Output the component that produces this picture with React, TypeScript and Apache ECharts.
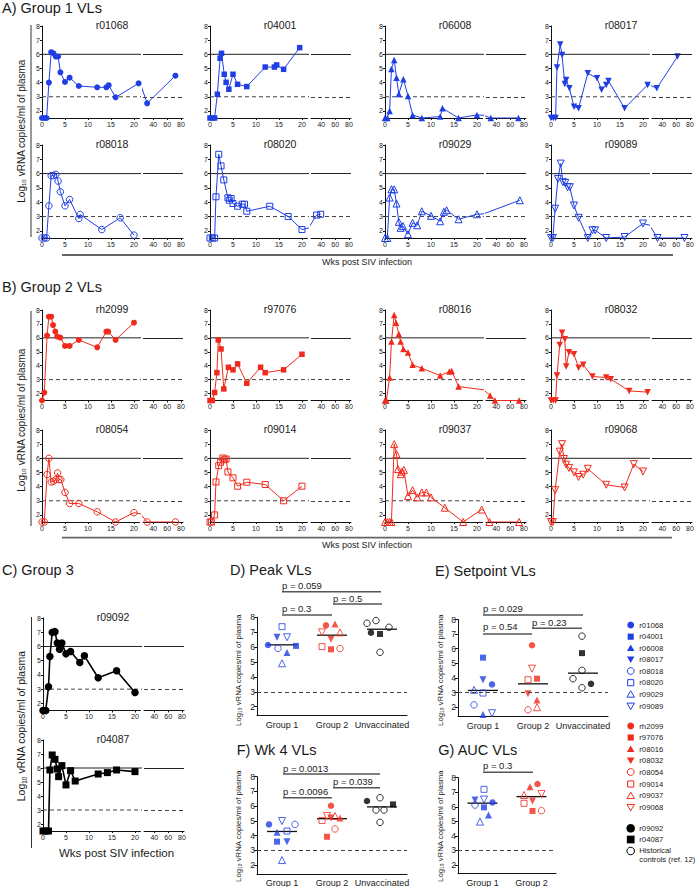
import React, { useEffect, useRef } from 'react';
import * as echarts from 'echarts';

// ---------------- Time-course data (weeks post infection, log10 vRNA) ----------------
const r01068_wk = [0, 0.5, 1, 1.5, 2, 2.5, 3, 3.5, 4, 5, 6, 8, 12, 14, 14.5, 16, 21, 31, 72];
const r01068_vl = [1.5, 1.5, 1.5, 4.0, 6.15, 6.07, 5.84, 5.85, 4.73, 4.05, 4.35, 3.76, 3.67, 3.67, 3.82, 2.96, 3.95, 2.54, 4.49];
const r04001_wk = [0, 0.5, 1, 1.6, 2.2, 2.5, 3.1, 3.5, 4.1, 5, 6, 8, 12, 14, 14.5, 16, 19.5];
const r04001_vl = [1.5, 1.5, 1.5, 3.18, 5.72, 6.07, 4.59, 4.02, 3.53, 4.59, 3.88, 3.72, 5.1, 5.1, 5.25, 4.94, 6.47];
const r06008_wk = [0, 0.5, 1, 1.4, 2, 2.5, 3, 4, 5, 6, 8, 12, 12.5, 16, 20, 32, 72];
const r06008_vl = [1.5, 1.5, 2.0, 4.96, 5.6, 4.35, 3.2, 4.24, 3.06, 1.72, 1.5, 1.6, 2.19, 1.5, 1.72, 1.5, 1.5];
const r08017_wk = [0, 0.5, 1, 1.3, 2, 2.4, 3, 3.3, 4, 5, 6, 8, 10, 11, 12, 12.5, 16, 21, 32, 62];
const r08017_vl = [1.5, 1.5, 1.5, 5.06, 6.7, 5.95, 3.9, 4.19, 3.6, 2.3, 2.19, 4.66, 4.31, 3.5, 3.84, 4.12, 2.19, 3.84, 3.6, 5.84];
const r08018_wk = [0, 0.5, 1, 1.5, 2, 2.5, 3, 3.5, 4, 5, 6, 8, 8.3, 13, 17, 20];
const r08018_vl = [1.5, 1.5, 1.5, 3.75, 5.86, 5.86, 5.95, 5.48, 4.73, 3.75, 4.19, 2.86, 3.14, 2.09, 2.91, 1.7];
const r08020_wk = [0, 0.5, 1, 1.3, 1.9, 2.4, 3, 3.9, 4.2, 4.6, 5, 6, 7, 7.5, 8, 13, 17, 20, 33, 39];
const r08020_vl = [1.5, 1.5, 1.5, 4.38, 7.35, 6.54, 5.56, 4.31, 4.14, 4.26, 3.91, 3.72, 3.86, 3.86, 3.37, 3.72, 3.0, 2.09, 3.1, 3.16];
const r09029_wk = [0, 0.5, 1, 1.4, 2, 2.5, 3, 3.4, 3.9, 5, 6, 7, 8, 10, 12, 12.8, 13.4, 16, 20, 74];
const r09029_vl = [1.5, 1.5, 4.33, 4.91, 4.9, 3.91, 2.63, 2.21, 2.33, 1.77, 2.56, 2.39, 3.37, 3.05, 2.67, 3.33, 3.44, 2.81, 3.16, 4.14];
const r09089_wk = [0, 0.4, 0.9, 1.5, 2.1, 2.6, 3.1, 3.6, 4.1, 5, 6, 8, 9, 9.6, 12, 16, 20, 33, 72];
const r09089_vl = [1.5, 1.5, 3.55, 5.63, 6.7, 5.4, 5.35, 5.05, 5.05, 3.77, 2.91, 1.5, 2.04, 2.04, 1.5, 1.57, 2.51, 1.5, 1.5];

const rh2099_wk = [0, 0.5, 1.1, 1.5, 2, 2.4, 2.9, 3.3, 4, 5, 6, 8, 12, 14, 14.4, 16, 20];
const rh2099_vl = [1.5, 2.07, 6.16, 7.52, 7.52, 6.92, 6.45, 6.09, 6.02, 5.42, 5.42, 5.85, 5.32, 6.45, 6.45, 5.85, 7.09];
const r97076_wk = [0, 0.5, 1, 1.5, 1.8, 2.4, 3, 4, 5, 6, 8, 11, 12, 16, 20];
const r97076_vl = [1.5, 1.5, 2.07, 3.5, 5.85, 5.2, 2.33, 3.89, 3.7, 4.13, 2.74, 3.89, 3.5, 3.7, 4.82];
const r08016_wk = [0, 0.3, 1, 1.4, 2, 2.4, 3, 3.4, 4, 5, 6, 8, 12, 14, 14.5, 16, 31, 38, 73];
const r08016_vl = [1.5, 1.5, 3.15, 5.73, 7.64, 7.09, 6.28, 5.73, 5.2, 4.94, 4.06, 3.82, 3.29, 3.58, 3.62, 2.5, 1.86, 1.5, 1.5];
const r08032_wk = [0, 0.5, 1, 1.3, 1.9, 2.4, 3, 3.3, 3.9, 5, 6, 7, 9, 12, 13, 17, 21];
const r08032_vl = [1.5, 1.5, 1.5, 3.29, 5.49, 6.37, 5.9, 3.94, 4.96, 4.82, 3.86, 4.06, 3.22, 3.15, 3.03, 2.19, 2.1];
const r08054_wk = [0, 0.5, 1.1, 1.5, 2, 2.5, 3, 3.4, 3.7, 4.1, 5, 6, 8, 12, 16, 20, 31, 72];
const r08054_vl = [1.5, 1.5, 4.85, 6.0, 4.33, 4.38, 4.5, 4.97, 4.5, 4.5, 3.59, 2.81, 2.81, 2.22, 1.5, 2.16, 1.5, 1.5];
const r09014_wk = [0, 0.3, 1, 1.3, 1.9, 2.3, 2.8, 3.1, 3.5, 3.9, 5, 6, 8, 12, 16, 20];
const r09014_vl = [1.5, 1.5, 2.0, 4.33, 5.48, 5.72, 6.02, 5.9, 5.95, 5.04, 4.62, 4.03, 4.31, 4.15, 3.0, 4.03];
const r09037_wk = [0, 0.5, 1, 1.4, 2, 2.5, 2.8, 3.4, 3.6, 4.1, 5, 6, 7, 8, 9, 10, 13, 17, 21, 30, 73];
const r09037_vl = [1.5, 1.5, 1.5, 1.5, 7.0, 6.3, 5.24, 4.88, 5.06, 5.18, 3.33, 3.75, 3.24, 3.59, 3.59, 3.24, 2.51, 1.5, 2.38, 1.5, 1.5];
const r09068_wk = [0, 0.4, 0.9, 1.9, 2.4, 2.8, 3.3, 3.9, 5, 6, 7, 8, 12, 16, 18, 20];
const r09068_vl = [1.5, 1.5, 3.75, 6.47, 7.0, 5.95, 5.55, 5.32, 5.01, 4.68, 4.84, 5.26, 4.13, 3.94, 5.59, 5.07];

const r09092_wk = [0, 0.6, 1.2, 1.5, 2, 2.6, 3.1, 3.6, 4.1, 5, 6, 8, 9, 12, 16, 20];
const r09092_vl = [1.5, 1.5, 3.17, 5.29, 6.99, 7.04, 6.24, 5.81, 6.24, 5.48, 5.65, 4.87, 5.34, 3.8, 4.29, 2.76];
const r04087_wk = [0, 0.6, 1.2, 1.5, 2, 2.6, 3.1, 3.4, 4.1, 5, 6, 7, 12, 14, 16, 20];
const r04087_vl = [1.5, 1.5, 1.5, 5.86, 6.93, 6.62, 5.93, 5.38, 6.17, 4.79, 5.81, 5.07, 5.57, 5.67, 5.86, 5.74];

// reference levels (log10 copies/ml)
const VL_HIGH = 6;
const VL_LOW = 3;

// ---------------- Summary data (D–G) ----------------
const g1Ids = ['r01068', 'r04001', 'r06008', 'r08017', 'r08018', 'r08020', 'r09029', 'r09089'];
const g2Ids = ['rh2099', 'r97076', 'r08016', 'r08032', 'r08054', 'r09014', 'r09037', 'r09068'];
const g3Ids = ['r09092', 'r04087'];
const catsAll = ['Group 1', 'Group 2', 'Unvaccinated'];
const catsTwo = ['Group 1', 'Group 2'];

const peak_g1 = [6.14, 6.08, 5.63, 6.66, 5.92, 7.37, 4.91, 6.66];
const peak_g2 = [7.46, 5.85, 7.55, 6.52, 5.9, 6.03, 6.99, 6.99];
const peak_g3 = [6.97, 6.88];
const peak_hist = [7.6, 7.78, 7.33, 5.65];
const peak_median = [6.15, 6.8, 7.2];

const set_g1 = [3.56, 5.39, 1.5, 3.88, 2.16, 2.97, 3.19, 1.59];
const set_g2 = [6.24, 3.95, 2.5, 2.92, 1.82, 3.88, 2.0, 4.64];
const set_g3 = [3.6, 5.7];
const set_hist = [6.86, 4.52, 3.95, 3.33];
const set_median = [3.15, 3.6, 4.33];

const wk4_g1 = [4.76, 3.59, 4.22, 3.59, 4.76, 4.31, 2.34, 4.99];
const wk4_g2 = [6.03, 3.92, 5.2, 5.2, 4.45, 5.03, 5.33, 5.33];
const wk4_g3 = [6.35, 6.12];
const wk4_hist = [6.57, 5.74, 5.74, 4.9];
const wk4_median = [4.28, 5.15, 5.95];

const auc_g1 = [6.3, 5.96, 5.44, 6.47, 6.12, 7.2, 4.98, 6.5];
const auc_g2 = [7.57, 5.71, 7.38, 6.4, 5.73, 6.24, 6.81, 6.88];
const auc_median = [6.25, 6.7];

// ---------------- Styles & layout ----------------
const FONT = '"Liberation Sans", Arial, Helvetica, sans-serif';
const BLUE = '#1f3fe4';
const RED = '#f02a1c';
const BLACK = '#000000';
const TXT = '#1a1a1a';

type Shape = 'circle' | 'rect' | 'up' | 'down';
interface Animal { id: string; wk: number[]; vl: number[]; color: string; shape: Shape; open: boolean; }

const animals: Record<string, Animal> = {};
function reg(id: string, wk: number[], vl: number[], color: string, shape: Shape, open: boolean) {
  animals[id] = { id, wk, vl, color, shape, open };
}
reg('r01068', r01068_wk, r01068_vl, BLUE, 'circle', false);
reg('r04001', r04001_wk, r04001_vl, BLUE, 'rect', false);
reg('r06008', r06008_wk, r06008_vl, BLUE, 'up', false);
reg('r08017', r08017_wk, r08017_vl, BLUE, 'down', false);
reg('r08018', r08018_wk, r08018_vl, BLUE, 'circle', true);
reg('r08020', r08020_wk, r08020_vl, BLUE, 'rect', true);
reg('r09029', r09029_wk, r09029_vl, BLUE, 'up', true);
reg('r09089', r09089_wk, r09089_vl, BLUE, 'down', true);
reg('rh2099', rh2099_wk, rh2099_vl, RED, 'circle', false);
reg('r97076', r97076_wk, r97076_vl, RED, 'rect', false);
reg('r08016', r08016_wk, r08016_vl, RED, 'up', false);
reg('r08032', r08032_wk, r08032_vl, RED, 'down', false);
reg('r08054', r08054_wk, r08054_vl, RED, 'circle', true);
reg('r09014', r09014_wk, r09014_vl, RED, 'rect', true);
reg('r09037', r09037_wk, r09037_vl, RED, 'up', true);
reg('r09068', r09068_wk, r09068_vl, RED, 'down', true);
reg('r09092', r09092_wk, r09092_vl, BLACK, 'circle', false);
reg('r04087', r04087_wk, r04087_vl, BLACK, 'rect', false);

// panel placement (y-axis x, top of plot (value 8), bottom of plot (value 1.5))
const COLS = [42, 210, 385, 551];
const SEG1_W = 97.5;
const SEG2_OFF = 101;
const SEG2_W = 40;
const SEG1_MAX = 21.2;
const PANELS: { id: string; L: number; T: number; B: number; big?: boolean }[] = [
  { id: 'r01068', L: COLS[0], T: 26, B: 118 }, { id: 'r04001', L: COLS[1], T: 26, B: 118 },
  { id: 'r06008', L: COLS[2], T: 26, B: 118 }, { id: 'r08017', L: COLS[3], T: 26, B: 118 },
  { id: 'r08018', L: COLS[0], T: 145, B: 238 }, { id: 'r08020', L: COLS[1], T: 145, B: 238 },
  { id: 'r09029', L: COLS[2], T: 145, B: 238 }, { id: 'r09089', L: COLS[3], T: 145, B: 238 },
  { id: 'rh2099', L: COLS[0], T: 310, B: 400.5 }, { id: 'r97076', L: COLS[1], T: 310, B: 400.5 },
  { id: 'r08016', L: COLS[2], T: 310, B: 400.5 }, { id: 'r08032', L: COLS[3], T: 310, B: 400.5 },
  { id: 'r08054', L: COLS[0], T: 430, B: 522 }, { id: 'r09014', L: COLS[1], T: 430, B: 522 },
  { id: 'r09037', L: COLS[2], T: 430, B: 522 }, { id: 'r09068', L: COLS[3], T: 430, B: 522 },
  { id: 'r09092', L: 43, T: 618, B: 710.5, big: true }, { id: 'r04087', L: 43, T: 740, B: 831, big: true },
];

// horizontal jitter (px) of dots in D–G
const JIT = {
  peak: { g1: [-14, 14, 5, -5, -4, 0, 0, 5], g2: [-6, -1, 3, -1, 8, -10, 8, -10], g3: [-11, -2], h: [-15, -6, 7, -2] },
  set: { g1: [9, 0, 0, 0, -9, 0, -9, 9], g2: [-1, 4, 4, -5, -5, -5, 4, -1], g3: [8, -1], h: [-1, -1, -10, -1] },
  wk4: { g1: [-13, -5, -5, 5, 13, 5, 0, 0], g2: [-1, -5, 8, -1, 3, -10, 3, -5], g3: [-15, 11], h: [-2, -6, 2, -2] },
  auc: { g1: [10, 1.5, 6, -7.5, -7.5, 1.5, -2.5, 1.5], g2: [6, 1, -1.5, 1, 10, -7.5, -7.5, 10] },
};

const Y_TICKS = [2, 3, 4, 5, 6, 7, 8];

function symOf(shape: Shape) {
  if (shape === 'circle') return { symbol: 'circle', rotate: 0 };
  if (shape === 'rect') return { symbol: 'rect', rotate: 0 };
  if (shape === 'up') return { symbol: 'triangle', rotate: 0 };
  return { symbol: 'triangle', rotate: 180 };
}
function sizeOf(shape: Shape, open: boolean, big = false) {
  if (big) return shape === 'rect' ? 7 : 7.5;
  if (shape === 'circle') return open ? 6.5 : 6;
  if (shape === 'rect') return open ? 6 : 5.5;
  return open ? 7 : 6.5;
}

function buildOption() {
  const grids: any[] = [];
  const xAxes: any[] = [];
  const yAxes: any[] = [];
  const series: any[] = [];
  const gfx: any[] = [];
  const axisLS = { color: '#111', width: 1 };
  const solidLS = { color: '#222', width: 1, type: 'solid' };
  const dashLS = { color: '#444', width: 1, type: [4, 3] };

  const addGrid = (left: number, top: number, width: number, height: number) => {
    grids.push({ left, top, width, height, containLabel: false, outerBoundsMode: 'none' });
    return grids.length - 1;
  };
  const valX = (gi: number, min: number, max: number, ticks: number[]) => ({
    type: 'value', gridIndex: gi, min, max,
    axisLine: { show: true, onZero: false, lineStyle: axisLS },
    axisTick: { show: true, length: 2, customValues: ticks, lineStyle: axisLS },
    axisLabel: { show: true, customValues: ticks, fontSize: 7, margin: 2.5, color: TXT, fontFamily: FONT },
    splitLine: { show: false },
  });
  const valY = (gi: number, min: number, show: boolean, fs = 7) => ({
    type: 'value', gridIndex: gi, min, max: 8, show,
    axisLine: { show: true, onZero: false, lineStyle: axisLS },
    axisTick: { show: true, length: 2, customValues: Y_TICKS, lineStyle: axisLS },
    axisLabel: { show: true, customValues: Y_TICKS, fontSize: fs, margin: 2, color: TXT, fontFamily: FONT },
    splitLine: { show: false },
  });
  const refLines = {
    silent: true, symbol: ['none', 'none'], label: { show: false }, animation: false,
    data: [{ yAxis: VL_HIGH, lineStyle: solidLS }, { yAxis: VL_LOW, lineStyle: dashLS }],
  };

  // ---- time-course panels ----
  for (const p of PANELS) {
    const an = animals[p.id];
    const h = p.B - p.T;
    const g1 = addGrid(p.L, p.T, SEG1_W, h);
    xAxes.push(valX(g1, 0, SEG1_MAX, [0, 5, 10, 15, 20]));
    yAxes.push(valY(g1, 1.5, true));
    const g2 = addGrid(p.L + SEG2_OFF, p.T, SEG2_W, h);
    xAxes.push(valX(g2, 25, 83, [40, 60, 80]));
    yAxes.push(valY(g2, 1.5, false));
    // reference levels in first segment run on across the axis break
    const bridge = (SEG2_OFF / SEG1_W) * SEG1_MAX;
    for (const [lvl, ls] of [[VL_HIGH, solidLS], [VL_LOW, dashLS]] as any[]) {
      series.push({
        type: 'line', xAxisIndex: g1, yAxisIndex: g1, data: [[0, lvl], [bridge, lvl]], clip: false,
        symbol: 'none', lineStyle: ls, silent: true, z: 1, emphasis: { disabled: true },
      });
    }
    const s = symOf(an.shape);
    const data = an.wk.map((w, i) => [w, an.vl[i]]);
    for (const gi of [g1, g2]) {
      series.push({
        type: 'line', name: an.id, xAxisIndex: gi, yAxisIndex: gi, data, clip: true,
        symbol: s.symbol, symbolRotate: s.rotate, symbolSize: sizeOf(an.shape, an.open, p.big),
        showAllSymbol: true,
        itemStyle: { color: an.open ? 'rgba(255,255,255,0)' : an.color, borderColor: an.color, borderWidth: an.open ? 1 : 0 },
        lineStyle: { color: an.color, width: p.big ? 1.6 : 1 },
        emphasis: { disabled: true },
        markLine: gi === g2 ? refLines : undefined,
        z: 3,
      });
    }
    gfx.push({
      type: 'text', x: p.L + 70, y: p.T - 1, silent: true,
      style: { text: an.id, fontSize: 10.5, fontFamily: FONT, fill: TXT, align: 'center', verticalAlign: 'middle' },
    });
  }

  // ---- dot plots ----
  const dotItem = (an: { color: string; shape: Shape; open: boolean }, cat: number, v: number, jit: number) => {
    const s = symOf(an.shape);
    const size = an.shape === 'rect' ? 6 : an.shape === 'circle' ? 6.5 : 7;
    return {
      value: [cat, v], symbol: s.symbol, symbolRotate: s.rotate, symbolSize: size, symbolOffset: [jit, 0],
      itemStyle: { color: an.open ? 'rgba(255,255,255,0)' : an.color, borderColor: an.color, borderWidth: an.open ? 1 : 0 },
    };
  };
  const hist = { color: BLACK, shape: 'circle' as Shape, open: true };
  const addDot = (left: number, top: number, width: number, height: number, cats: string[],
    groups: { ids: string[] | null; vals: number[]; jit: number[] }[], medians: number[]) => {
    const gi = addGrid(left, top, width, height);
    xAxes.push({
      type: 'category', gridIndex: gi, data: cats,
      axisLine: { show: true, onZero: false, lineStyle: axisLS }, axisTick: { show: false },
      axisLabel: { fontSize: 9, margin: 5, color: TXT, fontFamily: FONT, interval: 0 },
      splitLine: { show: false },
    });
    yAxes.push({ ...valY(gi, 1.4, true, 8.5), axisTick: { show: true, length: 3, customValues: Y_TICKS, lineStyle: axisLS } });
    const items: any[] = [];
    groups.forEach((g, ci) => {
      g.vals.forEach((v, k) => {
        const an = g.ids ? animals[g.ids[k]] : hist;
        items.push(dotItem(an, ci === 3 ? 2 : ci, v, g.jit[k]));
      });
    });
    series.push({
      type: 'scatter', xAxisIndex: gi, yAxisIndex: gi, data: items, z: 4, emphasis: { disabled: true },
      markLine: { silent: true, symbol: ['none', 'none'], label: { show: false }, animation: false,
        data: [{ yAxis: VL_LOW, lineStyle: dashLS }] },
    });
    series.push({
      type: 'custom', xAxisIndex: gi, yAxisIndex: gi, silent: true, z: 3,
      data: medians.map((m, i) => [i, m]),
      renderItem: (_p: any, api: any) => {
        const c = api.coord([api.value(0), api.value(1)]);
        return { type: 'line', shape: { x1: c[0] - 15, y1: c[1], x2: c[0] + 15, y2: c[1] }, style: { stroke: '#111', lineWidth: 1.3 } };
      },
    });
  };

  addDot(257, 617.3, 150, 98.3, catsAll, [
    { ids: g1Ids, vals: peak_g1, jit: JIT.peak.g1 }, { ids: g2Ids, vals: peak_g2, jit: JIT.peak.g2 },
    { ids: g3Ids, vals: peak_g3, jit: JIT.peak.g3 }, { ids: null, vals: peak_hist, jit: JIT.peak.h },
  ], peak_median);
  addDot(458, 619.5, 150, 96.5, catsAll, [
    { ids: g1Ids, vals: set_g1, jit: JIT.set.g1 }, { ids: g2Ids, vals: set_g2, jit: JIT.set.g2 },
    { ids: g3Ids, vals: set_g3, jit: JIT.set.g3 }, { ids: null, vals: set_hist, jit: JIT.set.h },
  ], set_median);
  addDot(257, 776.7, 150, 97.2, catsAll, [
    { ids: g1Ids, vals: wk4_g1, jit: JIT.wk4.g1 }, { ids: g2Ids, vals: wk4_g2, jit: JIT.wk4.g2 },
    { ids: g3Ids, vals: wk4_g3, jit: JIT.wk4.g3 }, { ids: null, vals: wk4_hist, jit: JIT.wk4.h },
  ], wk4_median);
  addDot(458, 777.7, 98, 96, catsTwo, [
    { ids: g1Ids, vals: auc_g1, jit: JIT.auc.g1 }, { ids: g2Ids, vals: auc_g2, jit: JIT.auc.g2 },
  ], auc_median);

  // ---- texts & decorations ----
  const text = (t: string, x: number, y: number, fs: number, align = 'left', extra: any = {}) => ({
    type: 'text', x, y, silent: true,
    style: { text: t, fontSize: fs, fontFamily: FONT, fill: TXT, align, verticalAlign: 'middle', ...extra },
  });
  const line = (x1: number, y1: number, x2: number, y2: number, stroke = '#555', lw = 1.5) => ({
    type: 'line', silent: true, shape: { x1, y1, x2, y2 }, style: { stroke, lineWidth: lw },
  });
  const yTitle = (x: number, y: number, fs: number) => ({
    type: 'text', x, y, rotation: Math.PI / 2, silent: true,
    style: {
      text: 'Log{s|10} vRNA copies/ml of plasma', fontSize: fs, fontFamily: FONT, fill: TXT,
      align: 'center', verticalAlign: 'middle', lineHeight: fs * 1.25,
      rich: { s: { fontSize: fs * 0.6, fontFamily: FONT, fill: TXT, verticalAlign: 'bottom', lineHeight: fs * 0.6 } },
    },
  });

  gfx.push(text('A) Group 1 VLs', 2, 7.5, 14.5));
  gfx.push(text('B) Group 2 VLs', 2, 286.7, 14.5));
  gfx.push(text('C) Group 3', 2, 570, 14.5));
  gfx.push(text('D) Peak VLs', 230, 570, 14.5));
  gfx.push(text('E) Setpoint VLs', 435, 570.7, 14.5));
  gfx.push(text('F) Wk 4 VLs', 236.7, 750, 14.5));
  gfx.push(text('G) AUC VLs', 438.3, 750, 14.5));

  gfx.push(line(31, 25, 31, 237, '#333', 1));
  gfx.push(line(31, 311, 31, 526, '#333', 1));
  gfx.push(line(31.5, 617, 31.5, 848, '#333', 1));
  gfx.push(yTitle(21, 131, 10));
  gfx.push(yTitle(21, 420, 10));
  gfx.push(yTitle(21, 726, 10.5));
  gfx.push(yTitle(238.3, 670, 7.8));
  gfx.push(yTitle(440, 670, 7.8));
  gfx.push(yTitle(238.3, 826, 7.8));
  gfx.push(yTitle(440, 826, 7.8));

  gfx.push(line(62, 255, 673, 255, '#666', 1.8));
  gfx.push(text('Wks post SIV infection', 367, 262, 9, 'center'));
  gfx.push(line(62, 537.7, 672, 537.7, '#666', 1.8));
  gfx.push(text('Wks post SIV infection', 367, 545, 9, 'center'));
  gfx.push(text('Wks post SIV infection', 116.5, 853.3, 11.5, 'center'));

  // p-value bars
  const pv = (t: string, x1: number, ty: number, ly: number, x2: number) => {
    gfx.push(text(t, x1, ty, 9.5));
    gfx.push(line(x1, ly, x2, ly, '#555', 1.6));
  };
  pv('p = 0.059', 282, 585.7, 591.7, 381);
  pv('p = 0.5', 333, 598.3, 604, 382);
  pv('p = 0.3', 282, 608.3, 615, 332);
  pv('p = 0.029', 483, 608.3, 615, 583);
  pv('p = 0.54', 483, 626.7, 634, 532);
  pv('p = 0.23', 532, 622.7, 628.3, 582);
  pv('p = 0.0013', 283, 768.3, 774, 380);
  pv('p = 0.039', 333, 781.7, 787.7, 380);
  pv('p = 0.0096', 283, 791, 797.7, 332);
  pv('p = 0.3', 483, 765.7, 772.3, 533);

  // legend
  const icon = (shape: Shape, color: string, open: boolean, cx: number, cy: number, r: number) => {
    const style = { fill: open ? 'rgba(255,255,255,0)' : color, stroke: color, lineWidth: open ? 1 : 0 };
    if (shape === 'circle') return { type: 'circle', silent: true, shape: { cx, cy, r }, style };
    if (shape === 'rect') return { type: 'rect', silent: true, shape: { x: cx - r * 0.9, y: cy - r * 0.9, width: r * 1.8, height: r * 1.8 }, style };
    const d = shape === 'up' ? 1 : -1;
    return {
      type: 'polygon', silent: true,
      shape: { points: [[cx, cy - d * r * 1.05], [cx + r * 1.1, cy + d * r * 0.85], [cx - r * 1.1, cy + d * r * 0.85]] }, style,
    };
  };
  const legRows: [string, number][] = [
    ['r01068', 625], ['r04001', 636.7], ['r06008', 648], ['r08017', 659.5],
    ['r08018', 671], ['r08020', 682.7], ['r09029', 694.3], ['r09089', 706],
    ['rh2099', 726], ['r97076', 737.5], ['r08016', 749], ['r08032', 760.5],
    ['r08054', 772], ['r09014', 784], ['r09037', 795.7], ['r09068', 807.3],
    ['r09092', 828.3], ['r04087', 839.5],
  ];
  for (const [id, y] of legRows) {
    const an = animals[id];
    const r = an.color === BLACK ? 4.3 : 3.4;
    gfx.push(icon(an.shape, an.color, an.open, 630.7, y, r));
    gfx.push(text(id, 639.3, y, 7.7));
  }
  gfx.push(icon('circle', BLACK, true, 630.7, 851, 3.8));
  gfx.push({
    type: 'text', x: 639.3, y: 846.5, silent: true,
    style: { text: 'Historical\ncontrols (ref. 12)', fontSize: 7.7, lineHeight: 8.5, fontFamily: FONT, fill: TXT, align: 'left', verticalAlign: 'top' },
  });

  return {
    animation: false,
    backgroundColor: '#ffffff',
    textStyle: { fontFamily: FONT },
    grid: grids,
    xAxis: xAxes,
    yAxis: yAxes,
    series,
    graphic: { elements: gfx },
  };
}

export default function App() {
  const ref = useRef<HTMLDivElement>(null);
  useEffect(() => {
    if (!ref.current) return;
    const chart = echarts.init(ref.current, undefined, { renderer: 'svg' });
    chart.setOption(buildOption() as any);
    return () => chart.dispose();
  }, []);
  return (
    <div
      ref={ref}
      style={{ position: 'absolute', left: 0, top: 0, width: 696, height: 887, background: '#fff' }}
    />
  );
}
